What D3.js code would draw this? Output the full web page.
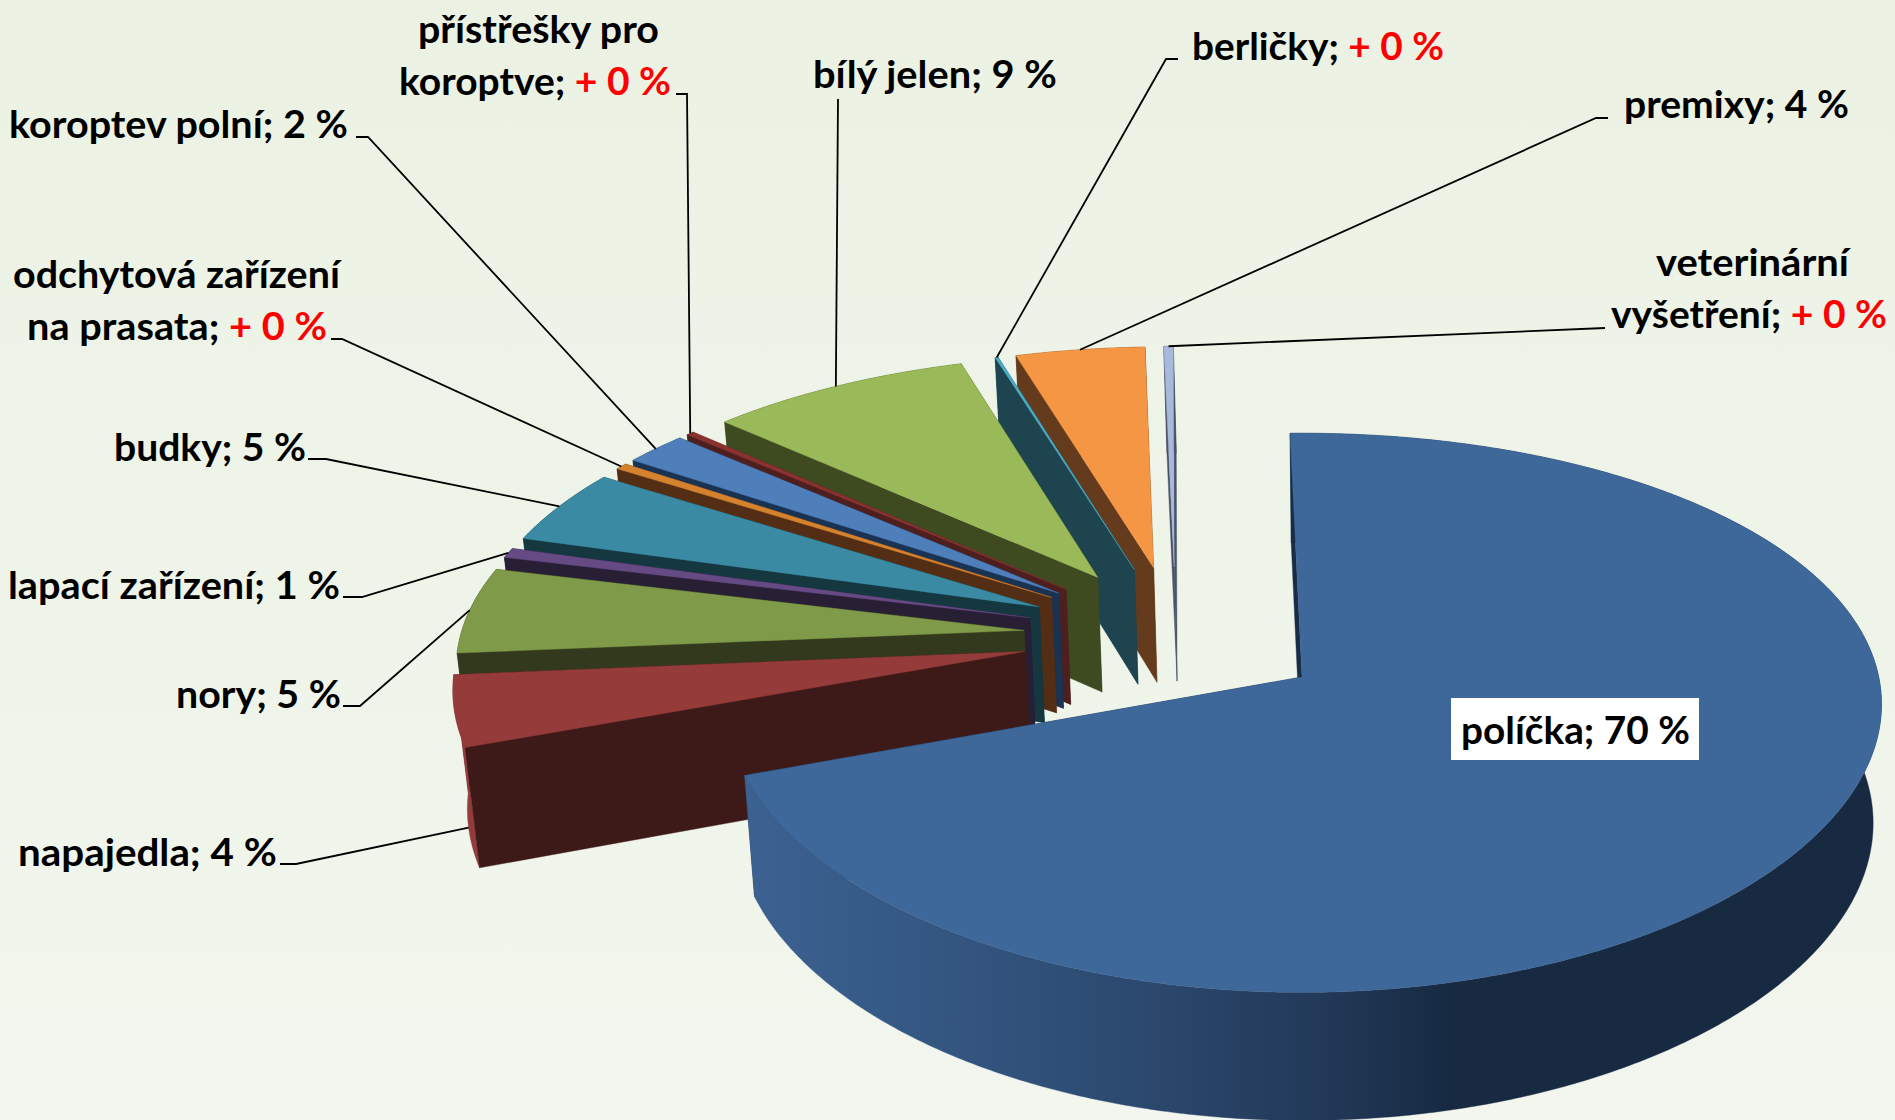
<!DOCTYPE html>
<html><head><meta charset="utf-8">
<script src="https://d3js.org/d3.v7.min.js"></script>
<style>html,body{margin:0;padding:0;background:#eef4e8;overflow:hidden}svg{display:block}</style>
</head><body><div id="chart"></div>
<script>
// --- data ---
const categories = ["políčka","napajedla","nory","lapací zařízení","budky","odchytová zařízení na prasata","koroptev polní","přístřešky pro koroptve","bílý jelen","berličky","premixy","veterinární vyšetření"];
const values = [69.8,4.2,5.2,0.6,4.6,0.4,2.05,0.25,8.4,0.1,4.1,0.3];
const valueLabels = ["70 %","4 %","5 %","1 %","5 %","+ 0 %","2 %","+ 0 %","9 %","+ 0 %","4 %","+ 0 %"];
// --- styles ---
const topColors  = ["#3e6899","#953c3b","#7f9a48","#664a84","#3a8aa3","#d5822f","#4e7fbb","#8a3230","#9aba59","#4bacc6","#f59645","#a8b9dc"];
const wallColors = ["#182c46","#3d1a18","#33391c","#281f35","#143740","#532e14","#1a3352","#4d1f1f","#3e4a20","#1d444f","#643b1c","#4a5168"];
const rimColors  = ["url(#rimMain)","#953c3b","#33391c","#281f35","#143740","#532e14","#1a3352","#4d1f1f","#3e4a20","#1d444f","#643b1c","#4a5168"];
// --- label layout: text lines, left x, target width, baseline ---
const labelLayout = [
 {i:0,lines:[["políčka; ",1461,229,744]],box:[1451,698,248,62]},
 {i:1,lines:[["napajedla; ",18,259,866]],elbow:[[280,864],[296,864]],h:.98},
 {i:2,lines:[["nory; ",176,165,708]],elbow:[[343,706],[360,706]],h:0},
 {i:3,lines:[["lapací zařízení; ",8,332,599]],elbow:[[343,597],[362,597]],h:0},
 {i:4,lines:[["budky; ",114,192,461]],elbow:[[308,459],[326,459]],h:0},
 {i:5,lines:[["odchytová zařízení",13,327,288,true],["na prasata; ",27,300,340]],elbow:[[331,339],[342,339]],h:0},
 {i:6,lines:[["koroptev polní; ",9,339,138]],elbow:[[356,137],[368,137]],h:0},
 {i:7,lines:[["přístřešky pro",418,241,43,true],["koroptve; ",399,272,95]],elbow:[[676,94],[687,94]],h:0},
 {i:8,lines:[["bílý jelen; ",813,244,88]],elbow:[[838,99]],h:0},
 {i:9,lines:[["berličky; ",1192,252,60]],elbow:[[1178,59],[1166,59]],h:0},
 {i:10,lines:[["premixy; ",1624,225,118]],elbow:[[1608,118],[1596,118]],h:0},
 {i:11,lines:[["veterinární",1656,193,276,true],["vyšetření; ",1611,276,328]],elbow:[[1605,328]],h:0}
];

const W=1895,H=1120;
// perspective camera of the 3D pie
const cx=1302,y0=677,B=575,A=275,K=0.128,T=118,VX=1360,SHR=0.016,EXPL=0.27,START=-1.3*Math.PI/180;
function project(u,v,h){
  const w=1-K*v;
  const wx=Math.pow(w,0.76)-0.003*u;
  let x=cx+B*u/wx,y=y0+A*v/w;
  y+=h*T*Math.pow(w,-0.6);
  x=VX+(x-VX)*(1-SHR*h);
  return [x,y];
}
const dir=a=>[Math.sin(a),-Math.cos(a)];
const arcs=d3.pie().sort(null).value(d=>d).startAngle(START).endAngle(START+2*Math.PI)(values);
const mainMid=(arcs[0].startAngle+arcs[0].endAngle)/2;
const C=dir(mainMid).map(d=>-EXPL*d);
const slices=arcs.map((a,i)=>{
  const mid=(a.startAngle+a.endAngle)/2,d=dir(mid);
  const apex=[C[0]+EXPL*d[0],C[1]+EXPL*d[1]];
  const rim=(ang)=>{const q=dir(ang);return [apex[0]+q[0],apex[1]+q[1]];};
  const n=Math.max(2,Math.ceil((a.endAngle-a.startAngle)/(Math.PI/360)));
  const angs=d3.range(n+1).map(k=>a.startAngle+(a.endAngle-a.startAngle)*k/n);
  return {i,mid,apex,rim,angs,a};
});
const line=d3.line();
const svg=d3.select("#chart").append("svg").attr("width",W).attr("height",H).attr("viewBox",`0 0 ${W} ${H}`);
const defs=svg.append("defs");
const bg=defs.append("linearGradient").attr("id","bg").attr("x1",0).attr("y1",0).attr("x2",0).attr("y2",1);
[[0,"#ebf2e3"],[1,"#f2f6ee"]].forEach(s=>bg.append("stop").attr("offset",s[0]).attr("stop-color",s[1]));
const rg=defs.append("linearGradient").attr("id","rimMain").attr("gradientUnits","userSpaceOnUse").attr("x1",743).attr("y1",0).attr("x2",1883).attr("y2",0);
[[0,"#3c6292"],[0.12,"#365a87"],[0.3,"#2e4d74"],[0.5,"#233a5a"],[0.62,"#172a42"],[1,"#172a42"]].forEach(s=>rg.append("stop").attr("offset",s[0]).attr("stop-color",s[1]));
svg.append("rect").attr("width",W).attr("height",H).attr("fill","url(#bg)");

const order=d3.range(1,slices.length).reverse().concat([0]);
const g=svg.append("g").attr("shape-rendering","geometricPrecision");
order.forEach(i=>{
  const s=slices[i];
  const sl=g.append("g").attr("class","slice");
  const face=(pts,fill)=>sl.append("path").attr("d",line(pts)+"Z").attr("fill",fill).attr("stroke",fill).attr("stroke-width",0.4);
  const ap=s.apex;
  const wall=ang=>{const r=s.rim(ang);return [project(ap[0],ap[1],0),project(r[0],r[1],0),project(r[0],r[1],1),project(ap[0],ap[1],1)];};
  face(wall(s.a.endAngle),wallColors[i]);
  const tp=s.angs.map(t=>{const r=s.rim(t);return project(r[0],r[1],0);});
  const bt=s.angs.map(t=>{const r=s.rim(t);return project(r[0],r[1],1);}).reverse();
  face(tp.concat(bt),rimColors[i]);
  face(wall(s.a.startAngle),wallColors[i]);
  face([project(ap[0],ap[1],0)].concat(tp),topColors[i]);
});

// leader lines, ending on the rim at each slice's middle angle
const lg=svg.append("g");
labelLayout.filter(l=>l.elbow).forEach(l=>{
  const s=slices[l.i],r=s.rim(s.mid);
  const pts=l.elbow.concat([project(r[0],r[1],l.h)]);
  lg.append("path").attr("d",line(pts)).attr("fill","none").attr("stroke","#000").attr("stroke-width",1.8);
});
// labels
const tg=svg.append("g").attr("font-family","Lato, 'Open Sans', sans-serif").attr("font-weight",700).attr("font-size",38);
labelLayout.forEach(l=>{
  if(l.box) tg.append("rect").attr("x",l.box[0]).attr("y",l.box[1]).attr("width",l.box[2]).attr("height",l.box[3]).attr("fill","#fff");
  l.lines.forEach(L=>{
    const [txt,x,wd,base,only]=L;
    const t=tg.append("text").attr("xml:space","preserve").style("white-space","pre");
    t.append("tspan").attr("fill","#000").text(txt);
    if(!only){const val=valueLabels[l.i];t.append("tspan").attr("fill",val.startsWith("+")?"#ff0000":"#000").text(val);}
    const m=t.node().getComputedTextLength();
    t.attr("transform",`translate(${x},${base}) scale(${wd/m},1)`);
  });
});
</script></body></html>
